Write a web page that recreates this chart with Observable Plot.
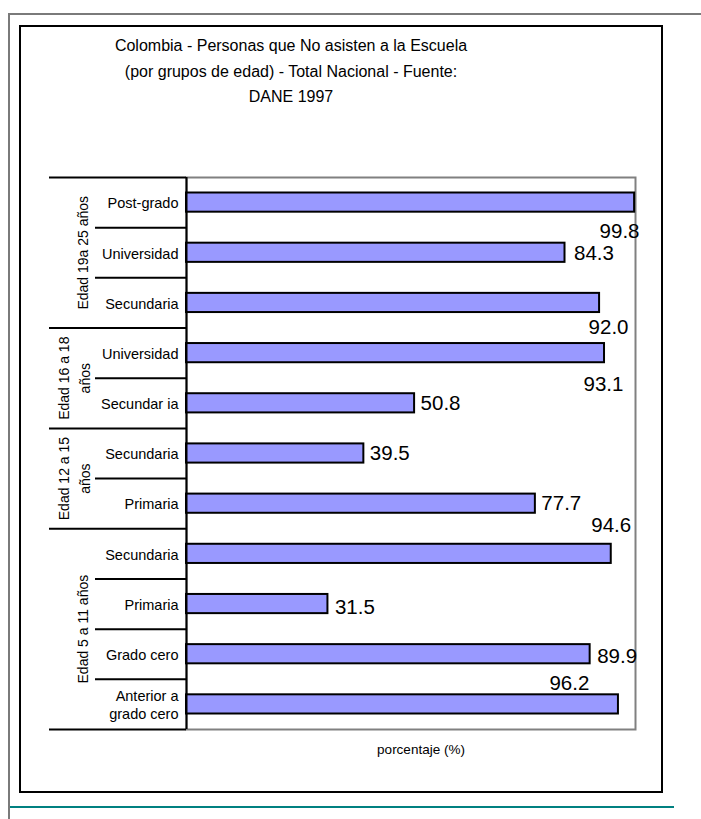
<!DOCTYPE html>
<html>
<head>
<meta charset="utf-8">
<script src="https://cdn.jsdelivr.net/npm/d3@7"></script>
<script src="https://cdn.jsdelivr.net/npm/@observablehq/plot@0.6"></script>
<style>
  body { margin: 0; background: #fff; font-family: "Liberation Sans", Arial, sans-serif; }
  #wrap { position: relative; width: 701px; height: 819px; overflow: hidden; background: #fff; }
  .outerTop { position: absolute; left: 8px; top: 13px; width: 693px; height: 0; border-top: 2px solid #7a7a7a; }
  .outerLeft { position: absolute; left: 8px; top: 13px; width: 0; height: 806px; border-left: 2px solid #7a7a7a; }
  .inner { position: absolute; left: 19px; top: 25px; width: 640px; height: 764px; border: 2px solid #000; }
  .teal { position: absolute; left: 10px; top: 806px; width: 664px; height: 0; border-top: 2px solid #008080; }
  .title { position: absolute; left: 40px; top: 33px; width: 502px; text-align: center; font-size: 16px; line-height: 25.5px; color: #000; }
  #chart { position: absolute; left: 0; top: 150px; }
</style>
</head>
<body>
<div id="wrap">
  <div class="outerTop"></div>
  <div class="outerLeft"></div>
  <div class="inner"></div>
  <div class="teal"></div>
  <div class="title">Colombia - Personas que No asisten a la Escuela<br>(por grupos de edad) - Total Nacional - Fuente:<br>DANE 1997</div>
  <div id="chart"></div>
</div>
<script>
// ---- data ----
const groups = ["Edad 19a 25 años", "Edad 16 a 18\naños", "Edad 12 a 15\naños", "Edad 5 a 11 años"];
const categories = ["Post-grado", "Universidad", "Secundaria", "Universidad", "Secundar ia",
  "Secundaria", "Primaria", "Secundaria", "Primaria", "Grado cero", "Anterior a\ngrado cero"];
const categoryGroup = [0, 0, 0, 1, 1, 2, 2, 3, 3, 3, 3];
const values = [99.8, 84.3, 92.0, 93.1, 50.8, 39.5, 77.7, 94.6, 31.5, 89.9, 96.2];
const xAxisTitle = "porcentaje (%)";

// ---- layout: value-label nudges (px) relative to bar end / bar centre ----
const labelNudge = [[-35, 29], [9, 1], [-11, 24], [-21, 31], [6, 0], [6, 0], [6, 0],
  [-20, -28], [7, 3], [7, 2], [-69, -21]];

const rows = categories.map((c, i) => ({i, cat: c, group: categoryGroup[i], value: values[i]}));
const n = categories.length;
const innerBounds = [], groupBounds = [0, n];
for (let k = 1; k < n; k++) (categoryGroup[k] !== categoryGroup[k - 1] ? groupBounds : innerBounds).push(k);
const groupRows = groups.map((g, gi) => {
  const idx = rows.filter(r => r.group === gi).map(r => r.i);
  return {label: g, mid: (Math.min(...idx) + Math.max(...idx) + 1) / 2, twoLine: g.includes("\n")};
});

const font = "Liberation Sans, Arial, sans-serif";
const chart = Plot.plot({
  width: 701,
  height: 620,
  marginLeft: 186,
  marginRight: 66,
  marginTop: 27,
  marginBottom: 41,
  style: {background: "transparent", fontFamily: font, overflow: "visible", color: "#000"},
  x: {domain: [0, 100], axis: null},
  y: {domain: [0, n], reverse: true, axis: null},
  marks: [
    Plot.frame({stroke: "#808080", strokeWidth: 2}),
    Plot.rect(rows, {x1: 0, x2: "value", y1: "i", y2: d => d.i + 1, insetTop: 15.5, insetBottom: 15.5,
      fill: "#9999ff", stroke: "#000", strokeWidth: 2}),
    Plot.ruleX([0], {stroke: "#000", strokeWidth: 2}),
    Plot.axisY(innerBounds, {anchor: "left", tickSize: 91, tickFormat: () => "", stroke: "#000", strokeWidth: 2, label: null}),
    Plot.axisY(groupBounds, {anchor: "left", tickSize: 137, tickFormat: () => "", stroke: "#000", strokeWidth: 2, label: null}),
    Plot.text(rows, {y: d => d.i + 0.5, text: "cat", frameAnchor: "left", textAnchor: "end", dx: -8,
      fontSize: 14.5, lineHeight: 1.25, fill: "#000"}),
    Plot.text(groupRows.filter(g => !g.twoLine), {y: "mid", text: "label", frameAnchor: "left", textAnchor: "middle",
      rotate: -90, dx: -103, fontSize: 14, fill: "#000"}),
    Plot.text(groupRows.filter(g => g.twoLine), {y: "mid", text: "label", frameAnchor: "left", textAnchor: "middle",
      rotate: -90, dx: -114, fontSize: 14, lineHeight: 1.55, fill: "#000"}),
    ...rows.map(r => Plot.text([r], {x: "value", y: d => d.i + 0.5, text: d => d.value.toFixed(1),
      textAnchor: "start", dx: labelNudge[r.i][0], dy: labelNudge[r.i][1], fontSize: 20.5, fill: "#000"})),
    Plot.text([xAxisTitle], {text: d => d, frameAnchor: "bottom", dy: 24, dx: 10, fontSize: 13.5, fill: "#000"})
  ]
});
document.getElementById("chart").appendChild(chart);
</script>
</body>
</html>
